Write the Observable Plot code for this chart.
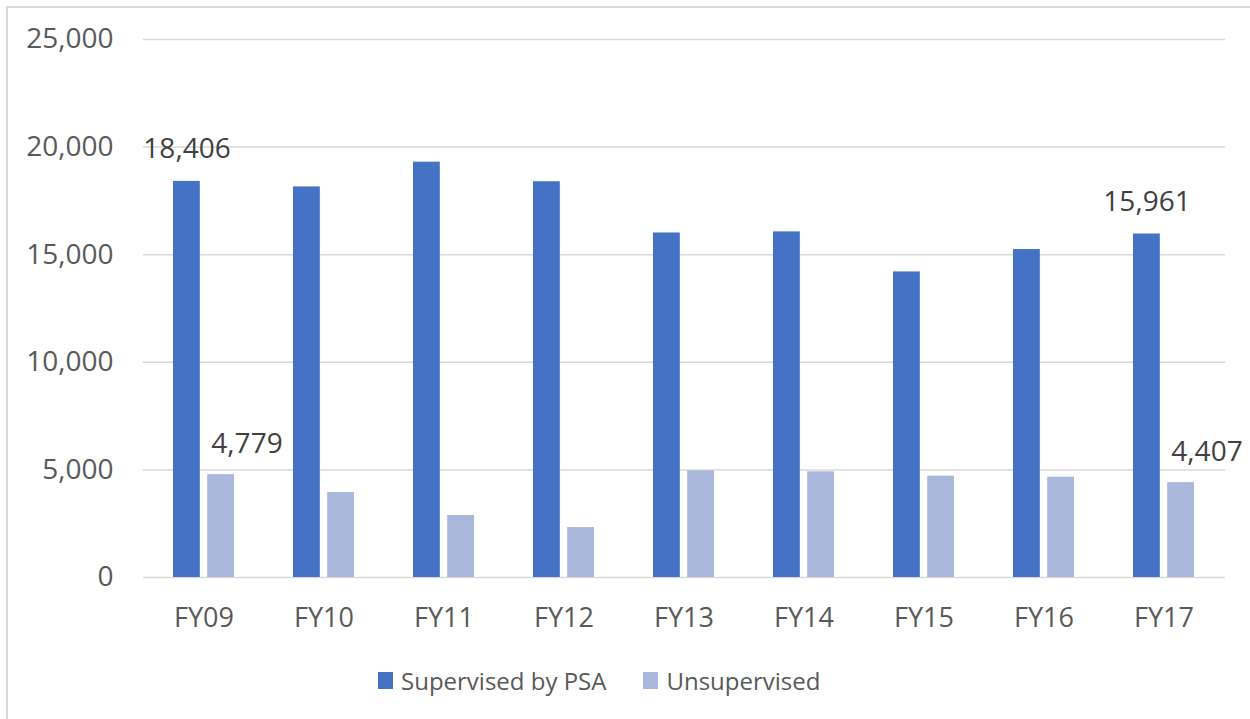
<!DOCTYPE html>
<html>
<head>
<meta charset="utf-8">
<script src="https://cdn.jsdelivr.net/npm/d3@7"></script>
<script src="https://cdn.jsdelivr.net/npm/@observablehq/plot@0.6"></script>
<style>
  html, body { margin: 0; padding: 0; background: #fff; }
  body { width: 1250px; height: 719px; overflow: hidden; position: relative; font-family: "Open Sans", sans-serif; }
  #frame { position: absolute; left: 6px; top: 6px; width: 1260px; height: 730px; border-top: 2px solid #d9d9d9; border-left: 2px solid #d9d9d9; box-sizing: border-box; }
  #chart { position: absolute; left: 0; top: 0; }
  #legend { position: absolute; left: 378px; top: 664px; display: flex; font-size: 24px; color: #595959; }
  .item { display: flex; align-items: center; margin-right: 37px; }
  .sw { width: 15px; height: 17px; display: inline-block; margin-right: 8px; }
</style>
</head>
<body>
<div id="frame"></div>
<div id="chart"></div>
<div id="legend"></div>
<script>
const years = ["FY09","FY10","FY11","FY12","FY13","FY14","FY15","FY16","FY17"];
const supervised = [18406, 18150, 19300, 18390, 16010, 16060, 14200, 15240, 15961];
const unsupervised = [4779, 3950, 2880, 2320, 4955, 4910, 4710, 4660, 4407];
const seriesNames = ["Supervised by PSA", "Unsupervised"];
const seriesColors = ["#4472c4", "#a9b7db"];
const labeledYears = ["FY09", "FY17"];
const yTicks = [0, 5000, 10000, 15000, 20000, 25000];

const supData = years.map((y, i) => ({year: y, value: supervised[i]}));
const unsData = years.map((y, i) => ({year: y, value: unsupervised[i]}));
const fmt = d3.format(",");

const chart = Plot.plot({
  width: 1250,
  height: 650,
  marginLeft: 143,
  marginRight: 25,
  marginTop: 39,
  marginBottom: 73,
  style: {fontFamily: "Open Sans, sans-serif", background: "transparent"},
  x: {domain: years, paddingInner: 0.49, paddingOuter: 0.25, label: null},
  y: {domain: [0, 25000], label: null},
  marks: [
    Plot.gridY(yTicks, {stroke: "#d9d9d9", strokeOpacity: 1, strokeWidth: 1.5}),
    Plot.barY(supData, {x: "year", y: "value", fill: seriesColors[0], insetRight: 34.2}),
    Plot.barY(unsData, {x: "year", y: "value", fill: seriesColors[1], insetLeft: 34.2}),
    Plot.text(supData.filter(d => labeledYears.includes(d.year)), {x: "year", y: "value", text: d => fmt(d.value), dx: -17, dy: -32, fill: "#404040", fontSize: 28}),
    Plot.text(unsData.filter(d => labeledYears.includes(d.year)), {x: "year", y: "value", text: d => fmt(d.value), dx: 43, dy: -31, fill: "#404040", fontSize: 28}),
    Plot.axisX({tickSize: 0, tickPadding: 30, fontSize: 27, fill: "#595959", label: null}),
    Plot.axisY({ticks: yTicks, tickSize: 0, tickPadding: 30, fontSize: 28, fill: "#595959", tickFormat: fmt, label: null})
  ]
});
document.getElementById("chart").appendChild(chart);

const legend = document.getElementById("legend");
seriesNames.forEach((name, i) => {
  const item = document.createElement("div");
  item.className = "item";
  const sw = document.createElement("span");
  sw.className = "sw";
  sw.style.background = seriesColors[i];
  const lab = document.createElement("span");
  lab.textContent = name;
  item.appendChild(sw);
  item.appendChild(lab);
  legend.appendChild(item);
});
</script>
</body>
</html>
